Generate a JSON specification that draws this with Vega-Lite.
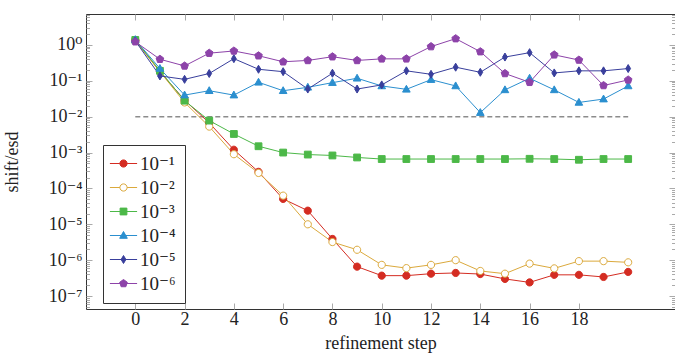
{
  "$schema": "https://vega.github.io/schema/vega-lite/v6.json",
  "width": 589,
  "height": 295,
  "autosize": {"type": "none"},
  "padding": {"left": 86, "top": 14, "right": 0, "bottom": 44},
  "config": {
    "view": {"stroke": "#333", "strokeWidth": 1},
    "font": "Liberation Serif, DejaVu Serif, serif",
    "axis": {"labelFont": "Liberation Serif, DejaVu Serif, serif", "titleFont": "Liberation Serif, DejaVu Serif, serif", "labelFontSize": 18, "titleFontSize": 18, "titleFontWeight": "normal", "labelColor": "#222", "titleColor": "#222", "tickColor": "#aaa", "grid": false, "domain": false, "labelOverlap": false},
    "legend": {"labelFont": "Liberation Serif, DejaVu Serif, serif", "labelFontSize": 19, "labelColor": "#222"}
  },
  "data": {"values": [
    {"step":0,"series":"10⁻¹","value":1.38},{"step":1,"series":"10⁻¹","value":0.18},{"step":2,"series":"10⁻¹","value":0.029},{"step":3,"series":"10⁻¹","value":0.0067},{"step":4,"series":"10⁻¹","value":0.0012},{"step":5,"series":"10⁻¹","value":0.00029},{"step":6,"series":"10⁻¹","value":0.000051},{"step":7,"series":"10⁻¹","value":0.000024},{"step":8,"series":"10⁻¹","value":0.0000039},{"step":9,"series":"10⁻¹","value":6.6e-7},{"step":10,"series":"10⁻¹","value":3.7e-7},{"step":11,"series":"10⁻¹","value":3.7e-7},{"step":12,"series":"10⁻¹","value":4.2e-7},{"step":13,"series":"10⁻¹","value":4.4e-7},{"step":14,"series":"10⁻¹","value":4.1e-7},{"step":15,"series":"10⁻¹","value":3.0e-7},{"step":16,"series":"10⁻¹","value":2.4e-7},{"step":17,"series":"10⁻¹","value":3.9e-7},{"step":18,"series":"10⁻¹","value":3.9e-7},{"step":19,"series":"10⁻¹","value":3.4e-7},{"step":20,"series":"10⁻¹","value":4.7e-7},
    {"step":0,"series":"10⁻²","value":1.3},{"step":1,"series":"10⁻²","value":0.18},{"step":2,"series":"10⁻²","value":0.025},{"step":3,"series":"10⁻²","value":0.0053},{"step":4,"series":"10⁻²","value":0.0009},{"step":5,"series":"10⁻²","value":0.00027},{"step":6,"series":"10⁻²","value":0.000063},{"step":7,"series":"10⁻²","value":0.00001},{"step":8,"series":"10⁻²","value":3.2e-6},{"step":9,"series":"10⁻²","value":1.95e-6},{"step":10,"series":"10⁻²","value":7.4e-7},{"step":11,"series":"10⁻²","value":6.0e-7},{"step":12,"series":"10⁻²","value":7.4e-7},{"step":13,"series":"10⁻²","value":1.0e-6},{"step":14,"series":"10⁻²","value":5.0e-7},{"step":15,"series":"10⁻²","value":4.2e-7},{"step":16,"series":"10⁻²","value":8.0e-7},{"step":17,"series":"10⁻²","value":5.9e-7},{"step":18,"series":"10⁻²","value":9.4e-7},{"step":19,"series":"10⁻²","value":9.4e-7},{"step":20,"series":"10⁻²","value":8.7e-7},
    {"step":0,"series":"10⁻³","value":1.38},{"step":1,"series":"10⁻³","value":0.19},{"step":2,"series":"10⁻³","value":0.028},{"step":3,"series":"10⁻³","value":0.0078},{"step":4,"series":"10⁻³","value":0.0033},{"step":5,"series":"10⁻³","value":0.0015},{"step":6,"series":"10⁻³","value":0.001},{"step":7,"series":"10⁻³","value":0.00088},{"step":8,"series":"10⁻³","value":0.00083},{"step":9,"series":"10⁻³","value":0.00073},{"step":10,"series":"10⁻³","value":0.00066},{"step":11,"series":"10⁻³","value":0.00066},{"step":12,"series":"10⁻³","value":0.00066},{"step":13,"series":"10⁻³","value":0.00066},{"step":14,"series":"10⁻³","value":0.00066},{"step":15,"series":"10⁻³","value":0.00066},{"step":16,"series":"10⁻³","value":0.00067},{"step":17,"series":"10⁻³","value":0.00066},{"step":18,"series":"10⁻³","value":0.00063},{"step":19,"series":"10⁻³","value":0.00066},{"step":20,"series":"10⁻³","value":0.00066},
    {"step":0,"series":"10⁻⁴","value":1.4},{"step":1,"series":"10⁻⁴","value":0.22},{"step":2,"series":"10⁻⁴","value":0.04},{"step":3,"series":"10⁻⁴","value":0.053},{"step":4,"series":"10⁻⁴","value":0.04},{"step":5,"series":"10⁻⁴","value":0.091},{"step":6,"series":"10⁻⁴","value":0.053},{"step":7,"series":"10⁻⁴","value":0.066},{"step":8,"series":"10⁻⁴","value":0.089},{"step":9,"series":"10⁻⁴","value":0.118},{"step":10,"series":"10⁻⁴","value":0.072},{"step":11,"series":"10⁻⁴","value":0.058},{"step":12,"series":"10⁻⁴","value":0.108},{"step":13,"series":"10⁻⁴","value":0.072},{"step":14,"series":"10⁻⁴","value":0.013},{"step":15,"series":"10⁻⁴","value":0.056},{"step":16,"series":"10⁻⁴","value":0.118},{"step":17,"series":"10⁻⁴","value":0.056},{"step":18,"series":"10⁻⁴","value":0.025},{"step":19,"series":"10⁻⁴","value":0.031},{"step":20,"series":"10⁻⁴","value":0.072},
    {"step":0,"series":"10⁻⁵","value":1.3},{"step":1,"series":"10⁻⁵","value":0.137},{"step":2,"series":"10⁻⁵","value":0.11},{"step":3,"series":"10⁻⁵","value":0.16},{"step":4,"series":"10⁻⁵","value":0.415},{"step":5,"series":"10⁻⁵","value":0.21},{"step":6,"series":"10⁻⁵","value":0.18},{"step":7,"series":"10⁻⁵","value":0.059},{"step":8,"series":"10⁻⁵","value":0.163},{"step":9,"series":"10⁻⁵","value":0.059},{"step":10,"series":"10⁻⁵","value":0.077},{"step":11,"series":"10⁻⁵","value":0.19},{"step":12,"series":"10⁻⁵","value":0.152},{"step":13,"series":"10⁻⁵","value":0.24},{"step":14,"series":"10⁻⁵","value":0.173},{"step":15,"series":"10⁻⁵","value":0.46},{"step":16,"series":"10⁻⁵","value":0.61},{"step":17,"series":"10⁻⁵","value":0.166},{"step":18,"series":"10⁻⁵","value":0.19},{"step":19,"series":"10⁻⁵","value":0.19},{"step":20,"series":"10⁻⁵","value":0.22},
    {"step":0,"series":"10⁻⁶","value":1.23},{"step":1,"series":"10⁻⁶","value":0.40},{"step":2,"series":"10⁻⁶","value":0.26},{"step":3,"series":"10⁻⁶","value":0.59},{"step":4,"series":"10⁻⁶","value":0.68},{"step":5,"series":"10⁻⁶","value":0.50},{"step":6,"series":"10⁻⁶","value":0.34},{"step":7,"series":"10⁻⁶","value":0.37},{"step":8,"series":"10⁻⁶","value":0.47},{"step":9,"series":"10⁻⁶","value":0.37},{"step":10,"series":"10⁻⁶","value":0.41},{"step":11,"series":"10⁻⁶","value":0.41},{"step":12,"series":"10⁻⁶","value":0.90},{"step":13,"series":"10⁻⁶","value":1.5},{"step":14,"series":"10⁻⁶","value":0.65},{"step":15,"series":"10⁻⁶","value":0.16},{"step":16,"series":"10⁻⁶","value":0.091},{"step":17,"series":"10⁻⁶","value":0.53},{"step":18,"series":"10⁻⁶","value":0.38},{"step":19,"series":"10⁻⁶","value":0.074},{"step":20,"series":"10⁻⁶","value":0.106}
  ]},
  "resolve": {"axis": {"x": "independent", "y": "independent"}},
  "layer": [
    {
      "data": {"values": [{"from": 0, "to": 20, "level": 0.01}]},
      "mark": {"type": "rule", "color": "#8c8c8c", "strokeWidth": 1.4, "strokeDash": [5, 3]},
      "encoding": {
        "x": {"field": "from", "type": "quantitative", "scale": {"domain": [-2, 21.9], "nice": false, "zero": false},
          "axis": {"orient": "bottom", "title": "refinement step", "values": [0,2,4,6,8,10,12,14,16,18], "tickSize": -6, "labelPadding": 7, "titlePadding": 6}},
        "x2": {"field": "to"},
        "y": {"field": "level", "type": "quantitative", "scale": {"type": "log", "domain": [4.35e-8, 7.3], "nice": false},
          "axis": {"orient": "left", "title": "shift/esd", "titlePadding": 27,
            "values": [1e-7,1e-6,1e-5,1e-4,1e-3,1e-2,1e-1,1],
            "labelExpr": "['10⁰','10⁻¹','10⁻²','10⁻³','10⁻⁴','10⁻⁵','10⁻⁶','10⁻⁷','10⁻⁸'][-round(log(datum.value)/LN10)]",
            "ticks": false, "labelPadding": 4}}
      }
    },
    {
      "mark": {"type": "line", "strokeWidth": 1},
      "encoding": {
        "x": {"field": "step", "type": "quantitative", "axis": {"orient": "top", "title": null, "labels": false, "values": [0,2,4,6,8,10,12,14,16,18], "tickSize": -6}},
        "y": {"field": "value", "type": "quantitative",
          "axis": {"orient": "right", "title": null, "labels": false,
            "values": [5e-8,6e-8,7e-8,8e-8,9e-8,1e-7,2e-7,3e-7,4e-7,5e-7,6e-7,7e-7,8e-7,9e-7,1e-6,2e-6,3e-6,4e-6,5e-6,6e-6,7e-6,8e-6,9e-6,1e-5,2e-5,3e-5,4e-5,5e-5,6e-5,7e-5,8e-5,9e-5,1e-4,2e-4,3e-4,4e-4,5e-4,6e-4,7e-4,8e-4,9e-4,1e-3,2e-3,3e-3,4e-3,5e-3,6e-3,7e-3,8e-3,9e-3,1e-2,2e-2,3e-2,4e-2,5e-2,6e-2,7e-2,8e-2,9e-2,1e-1,2e-1,3e-1,4e-1,5e-1,6e-1,7e-1,8e-1,9e-1,1,2,3,4,5,6,7],
            "tickSize": {"condition": {"test": "abs(log(datum.value)/LN10 - round(log(datum.value)/LN10)) < 0.01", "value": -6}, "value": -3.5}}},
        "color": {"field": "series", "type": "nominal",
          "scale": {"domain": ["10⁻¹","10⁻²","10⁻³","10⁻⁴","10⁻⁵","10⁻⁶"], "range": ["#d42c22","#dba93c","#4cb848","#2b8fcf","#393f9c","#8d43a9"]},
          "legend": {"orient": "none", "legendX": 17, "legendY": 131, "title": null, "strokeColor": "#333", "fillColor": "white", "padding": 9,
            "symbolSize": 64, "symbolOffset": 2, "labelOffset": 7, "rowPadding": 4, "labelBaseline": "middle",
            "encode": {"symbols": {"update": {
              "shape": {"signal": "['M-3.4,0H-0.9M0.9,0H3.4M0.9,0A0.9,0.9,0,1,1,-0.9,0A0.9,0.9,0,1,1,0.9,0Z','M-3.4,0H-0.9M0.9,0H3.4M0.9,0A0.9,0.9,0,1,1,-0.9,0A0.9,0.9,0,1,1,0.9,0Z','M-3.4,0H3.4M-0.85,-0.85H0.85V0.85H-0.85Z','M-3.4,0H3.4M0,-1L0.95,0.7L-0.95,0.7Z','M-3.4,0H3.4M0,-1L0.6,0L0,1L-0.6,0Z','M-3.4,0H3.4M0,-1L0.951,-0.309L0.588,0.809L-0.588,0.809L-0.951,-0.309Z'][datum.index]"},
              "fill": {"signal": "['#d42c22','#ffffff','#4cb848','#2b8fcf','#393f9c','#8d43a9'][datum.index]"},
              "strokeWidth": {"value": 1},
              "opacity": {"value": 1}
            }}}}}
      }
    },
    {
      "mark": {"type": "point", "size": 64, "opacity": 1, "strokeWidth": 1, "filled": false},
      "encoding": {
        "x": {"field": "step", "type": "quantitative", "axis": null},
        "y": {"field": "value", "type": "quantitative",
          "axis": {"orient": "left", "title": null, "labels": false,
            "values": [5e-8,6e-8,7e-8,8e-8,9e-8,1e-7,2e-7,3e-7,4e-7,5e-7,6e-7,7e-7,8e-7,9e-7,1e-6,2e-6,3e-6,4e-6,5e-6,6e-6,7e-6,8e-6,9e-6,1e-5,2e-5,3e-5,4e-5,5e-5,6e-5,7e-5,8e-5,9e-5,1e-4,2e-4,3e-4,4e-4,5e-4,6e-4,7e-4,8e-4,9e-4,1e-3,2e-3,3e-3,4e-3,5e-3,6e-3,7e-3,8e-3,9e-3,1e-2,2e-2,3e-2,4e-2,5e-2,6e-2,7e-2,8e-2,9e-2,1e-1,2e-1,3e-1,4e-1,5e-1,6e-1,7e-1,8e-1,9e-1,1,2,3,4,5,6,7],
            "tickSize": {"condition": {"test": "abs(log(datum.value)/LN10 - round(log(datum.value)/LN10)) < 0.01", "value": -6}, "value": -3.5}}},
        "stroke": {"field": "series", "type": "nominal", "legend": null,
          "scale": {"domain": ["10⁻³","10⁻¹","10⁻²","10⁻⁴","10⁻⁵","10⁻⁶"], "range": ["#4cb848","#d42c22","#dba93c","#2b8fcf","#393f9c","#8d43a9"]}},
        "shape": {"field": "series", "type": "nominal", "legend": null,
          "scale": {"domain": ["10⁻⁶","10⁻⁵","10⁻⁴","10⁻³","10⁻²","10⁻¹"], "range": [
            "M0,-1L0.951,-0.309L0.588,0.809L-0.588,0.809L-0.951,-0.309Z",
            "M0,-1L0.6,0L0,1L-0.6,0Z",
            "M0,-1L0.95,0.7L-0.95,0.7Z",
            "M-0.85,-0.85H0.85V0.85H-0.85Z",
            "M0.9,0A0.9,0.9,0,1,1,-0.9,0A0.9,0.9,0,1,1,0.9,0Z",
            "M0.9,0A0.9,0.9,0,1,1,-0.9,0A0.9,0.9,0,1,1,0.9,0Z"]}},
        "fill": {"field": "series", "type": "nominal", "legend": null,
          "scale": {"domain": ["10⁻²","10⁻¹","10⁻³","10⁻⁴","10⁻⁵","10⁻⁶"], "range": ["#ffffff","#d42c22","#4cb848","#2b8fcf","#393f9c","#8d43a9"]}}
      }
    }
  ]
}
